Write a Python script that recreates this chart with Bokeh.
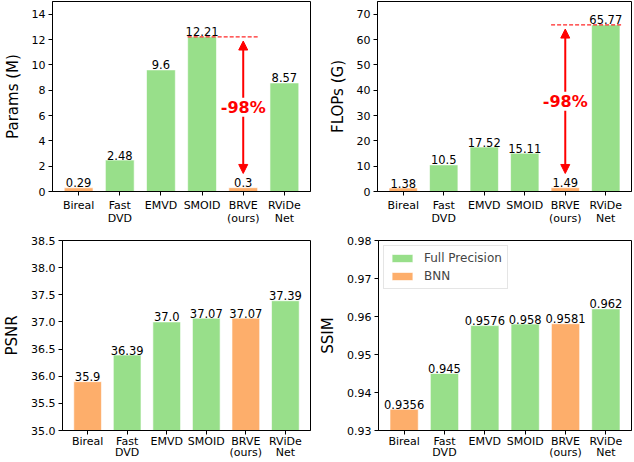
from bokeh.plotting import figure
from bokeh.models import (ColumnDataSource, Range1d, FixedTicker, Arrow, NormalHead,
                          Label, Legend, LegendItem, NumeralTickFormatter, CustomJSTickFormatter)
from bokeh.layouts import column, row
from bokeh.embed import file_html
from bokeh.resources import INLINE
from bokeh.core.properties import value

# ---------------- data ----------------
categories = ["Bireal", "Fast\nDVD", "EMVD", "SMOID", "BRVE\n(ours)", "RViDe\nNet"]
groups = ["BNN", "Full Precision", "Full Precision", "Full Precision", "BNN", "Full Precision"]
params = [0.29, 2.48, 9.6, 12.21, 0.3, 8.57]
flops = [1.38, 10.5, 17.52, 15.11, 1.49, 65.77]
psnr = [35.9, 36.39, 37.0, 37.07, 37.07, 37.39]
ssim = [0.9356, 0.945, 0.9576, 0.958, 0.9581, 0.962]
reduction_label = "-98%"
ours = "BRVE\n(ours)"

GREEN = "#98df8a"
ORANGE = "#fdae6b"
FONT = "DejaVu Sans"
group_colors = {"Full Precision": GREEN, "BNN": ORANGE}


def make_panel(vals, ylabel, y0, y1, ystep, fmt, width, height, borders,
               xstandoff, xline, arrow=False, legend=False):
    bl, br, bt, bb = borders
    p = figure(width=width, height=height, output_backend="svg", toolbar_location=None,
               x_range=Range1d(-0.635, 5.635), y_range=Range1d(y0, y1),
               min_border_left=bl, min_border_right=br, min_border_top=bt,
               min_border_bottom=bb, background_fill_color="white",
               border_fill_color="white")
    p.grid.visible = False
    p.outline_line_color = "black"
    p.outline_line_alpha = 1
    p.outline_line_width = 1

    xs = list(range(len(categories)))
    src = ColumnDataSource(dict(
        x=xs, top=vals, label=[str(v) for v in vals],
        color=[group_colors[g] for g in groups], group=groups))
    r = p.vbar(x="x", top="top", bottom=y0, width=0.7, fill_color="color",
               line_color="white", line_width=1, line_alpha=0.6, source=src)
    p.text(x="x", y="top", text="label", source=src, text_align="center",
           text_baseline="alphabetic", y_offset=-5, text_font=value(FONT),
           text_font_size="11.5px", text_color="black")

    # axes
    ticks = []
    t = y0
    while t <= y1 + 1e-9:
        ticks.append(round(t, 6))
        t += ystep
    p.yaxis.ticker = FixedTicker(ticks=ticks)
    p.yaxis.formatter = NumeralTickFormatter(format=fmt)
    p.xaxis.ticker = FixedTicker(ticks=xs)
    p.xaxis.formatter = CustomJSTickFormatter(args=dict(cats=categories),
                                              code="return cats[Math.round(tick)];")
    for ax in (p.xaxis[0], p.yaxis[0]):
        ax.major_label_text_font = FONT
        ax.major_label_text_font_size = "11px"
        ax.major_label_text_color = "black"
        ax.major_tick_out = 4
        ax.major_tick_in = 0
        ax.minor_tick_out = 0
        ax.minor_tick_in = 0
        ax.major_tick_line_color = "black"
        ax.axis_line_color = "black"
        ax.major_label_standoff = 3
    p.xaxis.major_label_standoff = xstandoff
    p.xaxis.major_label_text_line_height = xline
    p.yaxis.axis_label = ylabel
    p.yaxis.axis_label_text_font = FONT
    p.yaxis.axis_label_text_font_size = "15px"
    p.yaxis.axis_label_text_font_style = "normal"
    p.yaxis.axis_label_text_color = "black"
    p.yaxis.axis_label_standoff = 7

    if arrow:
        i_ours = categories.index(ours)
        i_max = max(range(len(vals)), key=lambda k: vals[k])
        vmax = vals[i_max]
        vours = vals[i_ours]
        span = y1 - y0
        p.segment(x0=min(i_max, i_ours) - 0.35, y0=vmax, x1=max(i_max, i_ours) + 0.4, y1=vmax,
                  line_color="red", line_dash="4 2", line_width=1.3, line_alpha=0.85)
        ys = vours + 0.075 * span
        ye = vmax - 0.022 * span
        p.add_layout(Arrow(x_start=i_ours, y_start=ys, x_end=i_ours, y_end=ye,
                           line_color="red", line_width=2,
                           start=NormalHead(size=9, fill_color="red", line_color="red"),
                           end=NormalHead(size=9, fill_color="red", line_color="red")))
        p.add_layout(Label(x=i_ours, y=(ys + ye) / 2, text=reduction_label, text_color="red",
                           text_font=FONT, text_font_size="16px", text_font_style="bold",
                           text_align="center", text_baseline="middle",
                           background_fill_color="white", background_fill_alpha=1))

    if legend:
        leg = Legend(items=[LegendItem(label="Full Precision", renderers=[r], index=1),
                            LegendItem(label="BNN", renderers=[r], index=0)],
                     location="top_left", label_text_font=FONT, label_text_font_size="12px",
                     glyph_width=26, glyph_height=10, label_height=14, label_standoff=9,
                     spacing=4, padding=5, margin=5, border_line_color="#cccccc",
                     background_fill_alpha=0.8)
        p.add_layout(leg)
    return p


WL, WR, H = 316, 318, 231
p1 = make_panel(params, "Params (M)", 0, 15, 2, "0", WL, H, (51, 6, 1, 40), 3, 1.0, arrow=True)
p2 = make_panel(flops, "FLOPs (G)", 0, 75, 10, "0", WR, H, (61, 3, 1, 40), 3, 1.0, arrow=True)
p3 = make_panel(psnr, "PSNR", 35.0, 38.5, 0.5, "0.0", WL, H, (51, 6, 9, 31), 0, 0.92)
p4 = make_panel(ssim, "SSIM", 0.93, 0.98, 0.01, "0.00", WR, H, (61, 3, 9, 31), 0, 0.92,
                legend=True)

layout = column(row(p1, p2), row(p3, p4))
open("out.html", "w").write(file_html(layout, INLINE))
